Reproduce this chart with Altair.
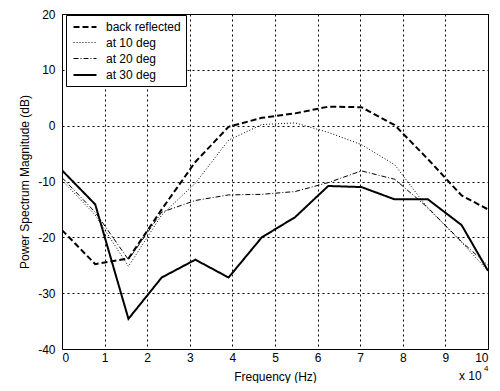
import altair as alt
import pandas as pd

FONT = "Liberation Sans"

# Frequency in units of 10^4 Hz
freq = [0, 0.78, 1.56, 2.34, 3.13, 3.91, 4.69, 5.47, 6.25, 7.03, 7.81, 8.59, 9.38, 10.0]
back_reflected = [-18.7, -24.8, -23.8, -15.0, -6.5, -0.2, 1.4, 2.2, 3.4, 3.3, 0.1, -6.0, -12.5, -15.0]
at_10_deg = [-9.8, -16.0, -25.2, -16.0, -10.3, -2.6, 0.2, 0.5, -1.2, -3.4, -7.0, -14.8, -20.9, -26.0]
at_20_deg = [-9.3, -15.5, -24.0, -15.5, -13.4, -12.4, -12.3, -11.8, -10.2, -8.1, -9.6, -14.7, -20.8, -25.0]
at_30_deg = [-8.0, -14.1, -34.6, -27.2, -24.0, -27.2, -20.0, -16.4, -10.8, -11.0, -13.2, -13.2, -17.8, -26.0]

series_names = ["back reflected", "at 10 deg", "at 20 deg", "at 30 deg"]
series_values = [back_reflected, at_10_deg, at_20_deg, at_30_deg]
dash_styles = [[6, 3], [1, 2], [5, 2, 1, 2], [1, 0]]
line_widths = [2, 1, 1, 2]

x_ticks = list(range(0, 11))
y_ticks = [-40, -30, -20, -10, 0, 10, 20]

rows = []
for name, vals in zip(series_names, series_values):
    for f, v in zip(freq, vals):
        rows.append({"freq": f, "mag": v, "series": name})
df = pd.DataFrame(rows)

legend = alt.Legend(
    title=None,
    orient="none",
    legendX=4,
    legendY=1,
    fillColor="white",
    strokeColor="black",
    padding=5,
    symbolType="M-2,0L2,0",
    symbolSize=132,
    symbolOffset=7,
    symbolStrokeColor="black",
    symbolFillColor="transparent",
    labelFont=FONT,
    labelFontSize=12,
    labelColor="black",
    labelOffset=14,
    rowPadding=3,
)

grid_opts = dict(grid=True, gridColor="black", gridDash=[2, 3], gridOpacity=1, gridWidth=1)

x_enc = alt.X(
    "freq:Q",
    scale=alt.Scale(domain=[0, 10], nice=False, zero=False),
    axis=alt.Axis(values=x_ticks, title="Frequency (Hz)", titleY=27,
                  titleBaseline="middle", labelPadding=3, **grid_opts),
)
y_enc = alt.Y(
    "mag:Q",
    scale=alt.Scale(domain=[-40, 20], nice=False, zero=False),
    axis=alt.Axis(values=y_ticks, title="Power Spectrum Magnitude (dB)",
                  titleX=-38, titleY=167.5, titleAngle=-90, titleAlign="center",
                  titleBaseline="middle", labelPadding=7,
                  labelExpr="'' + datum.value", **grid_opts),
)

lines = alt.Chart(df).mark_line(clip=True, color="black").encode(
    x=x_enc,
    y=y_enc,
    strokeDash=alt.StrokeDash(
        "series:N",
        scale=alt.Scale(domain=series_names, range=dash_styles),
        legend=legend,
    ),
    strokeWidth=alt.StrokeWidth(
        "series:N",
        scale=alt.Scale(type="ordinal", domain=series_names, range=line_widths),
        legend=legend,
    ),
    order="freq:Q",
)

mult_df = pd.DataFrame({"freq": [10], "mag": [-40], "t": ["x 10"]})
sup_df = pd.DataFrame({"freq": [10], "mag": [-40], "t": ["4"]})

mult = alt.Chart(mult_df).mark_text(
    align="left", baseline="middle", dx=-29, dy=27, fontSize=12, font=FONT, color="black"
).encode(x="freq:Q", y="mag:Q", text="t:N")

sup = alt.Chart(sup_df).mark_text(
    align="left", baseline="middle", dx=-4, dy=20, fontSize=8, font=FONT, color="black"
).encode(x="freq:Q", y="mag:Q", text="t:N")

chart = (
    alt.layer(lines, mult, sup)
    .properties(
        width=426,
        height=335,
        autosize=alt.AutoSizeParams(type="none"),
        padding={"left": 54, "top": 6, "right": 4, "bottom": 34},
        background="white",
    )
    .configure_view(stroke="black", strokeWidth=1)
    .configure_axis(
        domain=False,
        ticks=False,
        labelFont=FONT,
        labelFontSize=12,
        labelColor="black",
        titleFont=FONT,
        titleFontSize=12,
        titleFontWeight="normal",
        titleColor="black",
    )
)

chart.save("out.html", embed_options={"renderer": "svg", "actions": False})
